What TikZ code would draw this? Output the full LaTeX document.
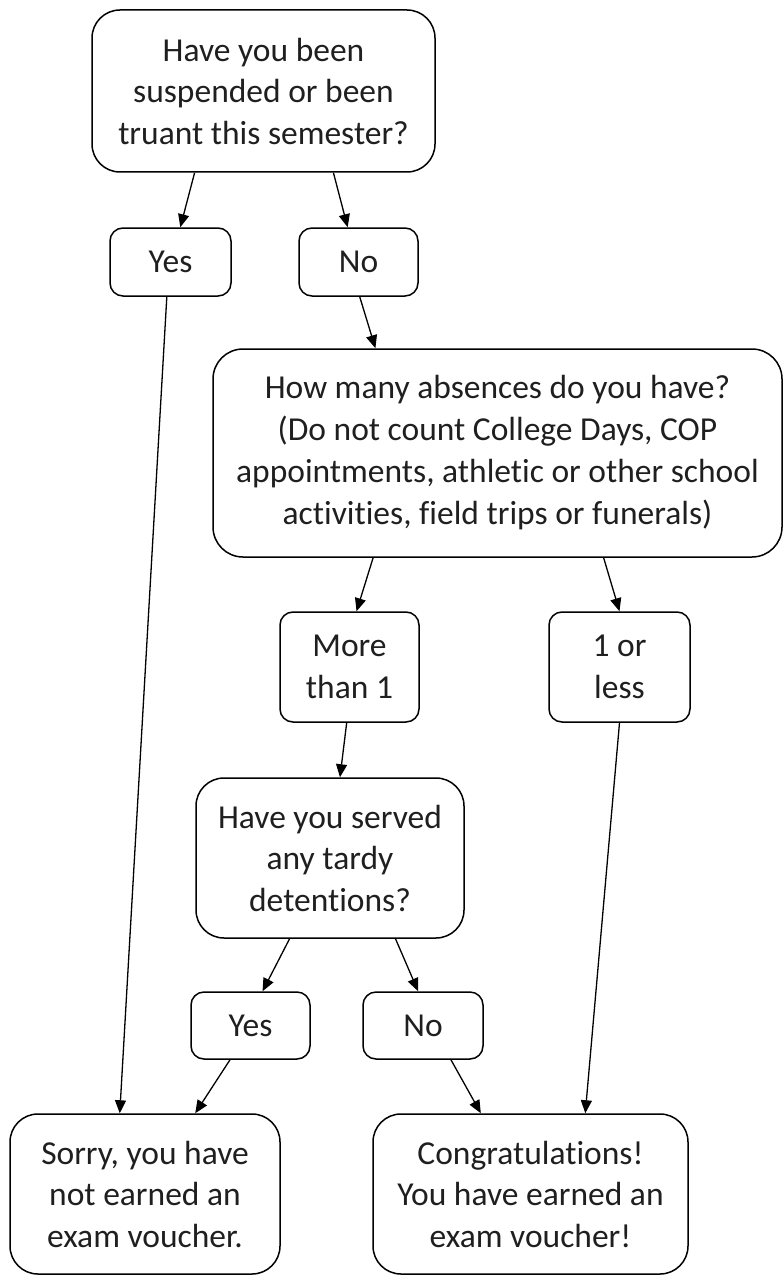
\documentclass[tikz,border=0pt]{standalone}
\usepackage{fontspec}
\setmainfont{Carlito}[RawFeature={-liga}]
\usetikzlibrary{calc,arrows.meta}
\tikzset{
  box/.style={draw, line width=1.5pt, align=center, inner sep=0pt,
    font=\fontsize{33.5}{41.5}\selectfont, text=black!88},
  arr/.style={line width=1.3pt, -{Triangle[length=13pt,width=11pt]}},
}
\newcommand{\bx}[7][]{% opts, name, x1, y1, x2, y2, text
  \node[box, #1, minimum width={#5-#3}, minimum height={#6-#4}] (#2) at ({(#3+#5)/2},{(#4+#6)/2}) {#7};}
\newcommand{\Sp}[2]{($(#1.south west)!#2!(#1.south east)$)}
\newcommand{\Np}[2]{($(#1.north west)!#2!(#1.north east)$)}
\begin{document}
\begin{tikzpicture}[x=1pt,y=-1pt]
\useasboundingbox (0,0) rectangle (783,1276);
\bx[rounded corners=28pt]{top}{92}{10}{435}{172}{Have you been\\suspended or been\\truant this semester?}
\bx[rounded corners=13pt]{yesA}{110}{228}{231}{296}{Yes}
\bx[rounded corners=13pt]{noA}{299}{228}{418}{296}{No}
\bx[rounded corners=13pt]{more}{280}{612}{419}{722}{More\\than 1}
\bx[rounded corners=13pt]{less}{549}{612}{690}{722}{1 or\\less}
\bx[rounded corners=13pt]{yesB}{191}{992}{310}{1059}{Yes}
\bx[rounded corners=13pt]{noB}{363}{992}{483}{1059}{No}
\bx[rounded corners=30pt, font=\fontsize{33.5}{42}\selectfont]{abs}{213}{349}{782}{557}{How many absences do you have?\\(Do not count College Days, COP\\appointments, athletic or other school\\activities, field trips or funerals)}
\bx[rounded corners=28pt]{tardy}{196}{778}{464}{938}{Have you served\\any tardy\\detentions?}
\bx[rounded corners=28pt]{sorry}{10}{1114}{280}{1274}{Sorry, you have\\not earned an\\exam voucher.}
\bx[rounded corners=28pt]{cong}{373}{1114}{688}{1274}{Congratulations!\\You have earned an\\exam voucher!}

\draw[arr] \Sp{top}{0.30} -- \Np{yesA}{0.58};
\draw[arr] \Sp{top}{0.703} -- \Np{noA}{0.41};
\draw[arr] \Sp{yesA}{0.47} -- \Np{sorry}{0.407};
\draw[arr] \Sp{noA}{0.51} -- \Np{abs}{0.286};
\draw[arr] \Sp{abs}{0.282} -- \Np{more}{0.55};
\draw[arr] \Sp{abs}{0.686} -- \Np{less}{0.50};
\draw[arr] \Sp{more}{0.48} -- \Np{tardy}{0.537};
\draw[arr] \Sp{less}{0.50} -- \Np{cong}{0.673};
\draw[arr] \Sp{tardy}{0.35} -- \Np{yesB}{0.60};
\draw[arr] \Sp{tardy}{0.743} -- \Np{noB}{0.46};
\draw[arr] \Sp{yesB}{0.33} -- \Np{sorry}{0.685};
\draw[arr] \Sp{noB}{0.73} -- \Np{cong}{0.343};
\end{tikzpicture}
\end{document}
